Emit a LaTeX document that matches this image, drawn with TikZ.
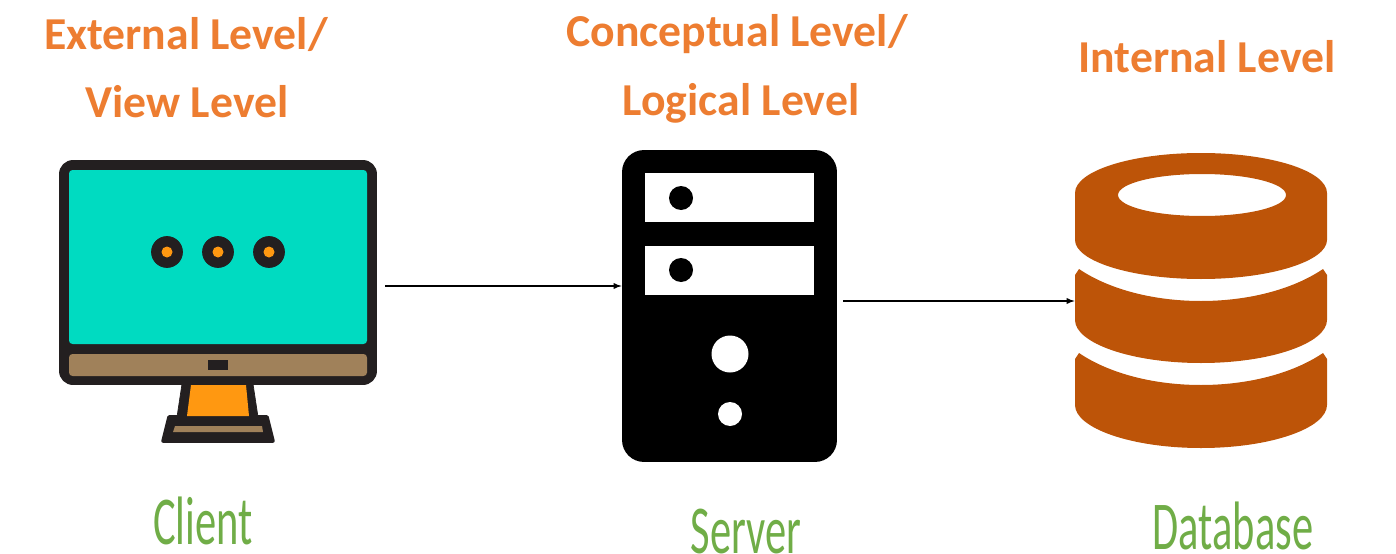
\documentclass[tikz,border=0pt]{standalone}
\usepackage{fontspec}
\setmainfont{Carlito}
\definecolor{levelorange}{HTML}{ED7D31}
\definecolor{tiergreen}{HTML}{70AD47}
\definecolor{screenteal}{HTML}{00DBC1}
\definecolor{bezelbrown}{HTML}{A0815A}
\definecolor{standorange}{HTML}{FF9811}
\definecolor{framedark}{HTML}{231F20}
\definecolor{drumrust}{HTML}{BD5408}
\tikzset{
  levellabel/.style={anchor=base,text=levelorange,font=\fontsize{26}{30}\selectfont\bfseries},
  tierlabel/.style={anchor=base,text=tiergreen,xscale=.62,transform shape,font=\fontsize{39}{44}\selectfont},
  flow/.style={-latex,black,line width=.6pt}
}
\begin{document}
\begin{tikzpicture}[join=round,x=.02cm,y=-.02cm] % Client, server, database
       \useasboundingbox (0,0) rectangle (1396,554);
       % Client
       \node (monitor) [fill=framedark,rounded corners=.28cm,inner sep=0pt,minimum width=6.36cm,minimum height=4.5cm] at (218,272.5) {};
       \filldraw[fill=framedark,draw=framedark](182,384)--(253,384)--(258,417)--(177,417)--cycle;
       \filldraw[fill=framedark,draw=framedark,line width=2pt](169,417)--(267,417)--(273,441)--(163,441)--cycle;
       \fill[standorange](191,385)--(246,385)--(249,416)--(187,416)--cycle;
       \fill[bezelbrown](175,426)--(262,426)--(263,432)--(173,432)--cycle;
       \fill[screenteal,rounded corners=2pt](69,170) rectangle (367,344);
       \fill[bezelbrown,rounded corners=2pt](69,354) rectangle (367,376);
       \fill[framedark](208,360) rectangle (228,370);
       \foreach \dotx in {167,218,269}{
        \filldraw[framedark](\dotx,252) circle (15.5);
        \fill[standorange](\dotx,252) circle (5.5);
       }
       % Server
       \node (server) [fill=black,rounded corners=.44cm,inner sep=0pt,minimum width=4.3cm,minimum height=6.24cm] at (729.5,306) {};
       \fill[white](645,173) rectangle (814,222);
       \fill[white](645,246) rectangle (814,295);
       \fill[black](681,198) circle (12);
       \fill[black](681,270) circle (12);
       \fill[white](730,354) circle (18.5);
       \fill[white](730,414) circle (12);
       % Database
       \node (database) [inner sep=0pt,minimum width=5.04cm,minimum height=5.9cm] at (1201,300.5) {};
       \fill[drumrust,even odd rule](1075,193)
            .. controls (1075,171) and (1131,153) .. (1201,153)
            .. controls (1271,153) and (1327,171) .. (1327,193)
            --(1327,240)
            .. controls (1327,261) and (1271,279) .. (1201,279)
            .. controls (1131,279) and (1075,261) .. (1075,240)--cycle
            (1202,195) ellipse (84 and 21);
       \foreach \ytop/\ybot in {269/320,353/405}{
        \fill[drumrust](1075,\ytop+6)--(1079,\ytop)
            .. controls (1110,\ytop+21) and (1155,\ytop+32) .. (1201,\ytop+32)
            .. controls (1247,\ytop+32) and (1292,\ytop+21) .. (1323,\ytop)
            --(1327,\ytop+6)--(1327,\ybot)
            .. controls (1327,\ybot+23) and (1271,\ybot+43) .. (1201,\ybot+43)
            .. controls (1131,\ybot+43) and (1075,\ybot+23) .. (1075,\ybot)--cycle;
       }
       % Connectors
       \coordinate (clientout) at (385,286);
       \coordinate (serverout) at (843,301);
       \draw[flow](clientout)--(server.west |- clientout);
       \draw[flow](serverout)--(database.west |- serverout);
       % Labels
       \node (external) [levellabel] at (186,50) {External Level/};
       \node (view) [levellabel] at (187,117) {View Level};
       \node (conceptual) [levellabel] at (737,47) {Conceptual Level/};
       \node (logical) [levellabel] at (741,115) {Logical Level};
       \node (internal) [levellabel] at (1207,72) {Internal Level};
       \node (client) [tierlabel] at (203,544) {Client};
       \node (serverlabel) [tierlabel] at (746,553) {Server};
       \node (databaselabel) [tierlabel] at (1233,549) {Database};
   \end{tikzpicture}
\end{document}
